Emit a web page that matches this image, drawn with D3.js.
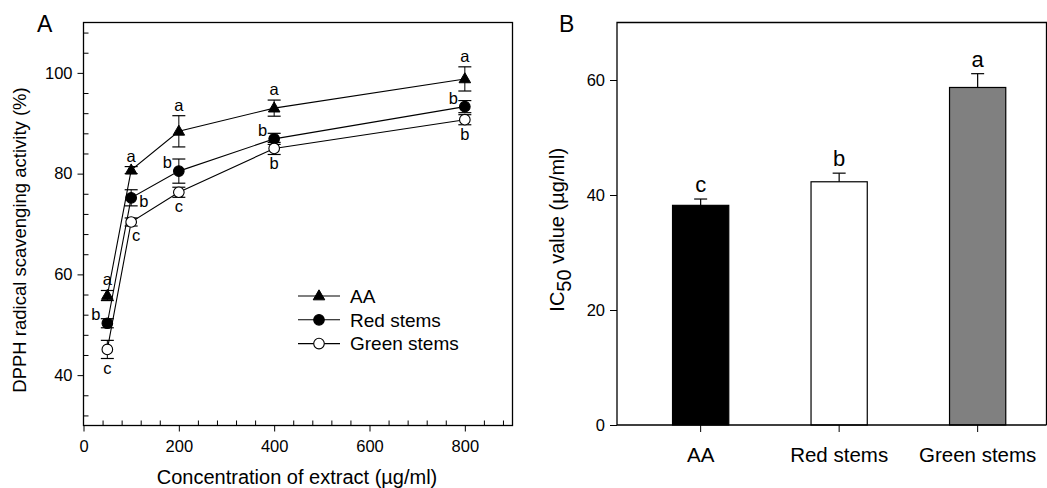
<!DOCTYPE html>
<html>
<head>
<meta charset="utf-8">
<script src="https://cdn.jsdelivr.net/npm/d3@7"></script>
<style>
	body { margin: 0; background: #fff; }
	text { font-family: Arial, "Liberation Sans", sans-serif; fill: #000; }
</style>
</head>
<body>
<svg id="chart" width="1047" height="488"></svg>
<script>
// ---- panel A data: DPPH scavenging (%) vs concentration
const conc = [50, 100, 200, 400, 800];
const aaMean = [55.8, 80.7, 88.4, 93.0, 98.8];
const aaErr = [1.0, 0.7, 3.1, 1.6, 2.4];
const redMean = [50.3, 75.2, 80.5, 86.9, 93.3];
const redErr = [0.9, 1.6, 2.4, 1.1, 1.2];
const greenMean = [45.1, 70.4, 76.3, 85.0, 90.7];
const greenErr = [1.8, 0.8, 1.0, 1.2, 1.0];
const aaLetters = ['a', 'a', 'a', 'a', 'a'];
const redLetters = ['b', 'b', 'b', 'b', 'b'];
const greenLetters = ['c', 'c', 'c', 'b', 'b'];
const seriesNames = ['AA', 'Red stems', 'Green stems'];
const xTicksA = [0, 200, 400, 600, 800];
const yTicksA = [40, 60, 80, 100];

// ---- panel B data: IC50
const ic50Cats = ['AA', 'Red stems', 'Green stems'];
const ic50Mean = [38.2, 42.3, 58.7];
const ic50Err = [1.1, 1.5, 2.4];
const ic50Letters = ['c', 'b', 'a'];
const yTicksB = [0, 20, 40, 60];

let svg = d3.select('#chart');

// ================= panel A =================
let A = {left: 83.5, right: 512.5, top: 22.5, bottom: 425.5};
let xA = d3.scaleLinear().domain([0, 900]).range([A.left, A.right]);
let yA = d3.scaleLinear().domain([30, 110]).range([A.bottom, A.top]);

let gA = svg.append('g').attr('id', 'panelA');

// minor ticks (inward)
gA.append('g')
	.attr('transform', `translate(0,${A.bottom})`)
	.call(d3.axisBottom(xA).tickValues(d3.range(40, 900, 40).filter(v => v % 200)).tickSize(-5).tickFormat('').tickSizeOuter(0));
gA.append('g')
	.attr('transform', `translate(${A.left},0)`)
	.call(d3.axisLeft(yA).tickValues(d3.range(32, 110, 4).filter(v => v % 20)).tickSize(-5).tickFormat('').tickSizeOuter(0));
// major ticks (outward)
gA.append('g')
	.attr('class', 'major')
	.attr('transform', `translate(0,${A.bottom})`)
	.call(d3.axisBottom(xA).tickValues(xTicksA).tickSize(6).tickPadding(9).tickSizeOuter(0));
gA.append('g')
	.attr('class', 'major')
	.attr('transform', `translate(${A.left},0)`)
	.call(d3.axisLeft(yA).tickValues(yTicksA).tickSize(6).tickPadding(5).tickSizeOuter(0));
gA.selectAll('.domain').remove();
gA.selectAll('.tick line').attr('stroke', '#000').attr('stroke-width', 1);
gA.selectAll('.major text').style('font-size', '16.5px').attr('fill', '#000');

gA.append('rect')
	.attr('x', A.left).attr('y', A.top)
	.attr('width', A.right - A.left).attr('height', A.bottom - A.top)
	.attr('fill', 'none').attr('stroke', '#000').attr('stroke-width', 1.3);

let line = d3.line().x(d => xA(d.x)).y(d => yA(d.y));

function seriesData(means, errs, letters) {
	return conc.map((c, i) => ({x: c, y: means[i], e: errs[i], l: letters[i]}));
}
let series = [
	{name: seriesNames[0], data: seriesData(aaMean, aaErr, aaLetters), marker: 'tri', fill: '#000'},
	{name: seriesNames[1], data: seriesData(redMean, redErr, redLetters), marker: 'circ', fill: '#000'},
	{name: seriesNames[2], data: seriesData(greenMean, greenErr, greenLetters), marker: 'circ', fill: '#fff'}
];

// lines first, then error bars, then markers
series.forEach(s => {
	gA.append('path')
		.attr('d', line(s.data))
		.attr('fill', 'none').attr('stroke', '#000').attr('stroke-width', 1.1);
});
series.forEach(s => {
	let eb = gA.append('g');
	s.data.forEach(d => {
		let x = xA(d.x), y1 = yA(d.y + d.e), y2 = yA(d.y - d.e);
		eb.append('line').attr('x1', x).attr('x2', x).attr('y1', y1).attr('y2', y2).attr('stroke', '#000');
		[y1, y2].forEach(yy => {
			eb.append('line').attr('x1', x - 6.5).attr('x2', x + 6.5).attr('y1', yy).attr('y2', yy).attr('stroke', '#000').attr('stroke-width', 1.2);
		});
	});
});
function drawMarker(g, type, fill, x, y) {
	if (type === 'tri') {
		g.append('path')
			.attr('d', d3.symbol(d3.symbolTriangle).size(58)())
			.attr('transform', `translate(${x},${y + 0.5})`)
			.attr('fill', fill).attr('stroke', '#000');
	} else {
		g.append('circle').attr('cx', x).attr('cy', y).attr('r', 5.3)
			.attr('fill', fill).attr('stroke', '#000').attr('stroke-width', 1.1);
	}
}
series.forEach(s => {
	s.data.forEach(d => drawMarker(gA, s.marker, s.fill, xA(d.x), yA(d.y)));
});

// significance letters, placed round each point
let letterSide = [
	['above', 'above', 'above', 'above', 'above'],
	['left', 'right', 'left', 'left', 'left'],
	['below', 'belowright', 'below', 'below', 'below']
];
series.forEach((s, si) => {
	s.data.forEach((d, i) => {
		let x = xA(d.x), side = letterSide[si][i];
		let t = gA.append('text').text(d.l).style('font-size', '16.5px');
		if (side === 'above') {
			t.attr('x', x).attr('y', yA(d.y + d.e) - 5).attr('text-anchor', 'middle');
		} else if (side === 'below' || side === 'belowright') {
			t.attr('x', side === 'below' ? x : x + 5).attr('y', yA(d.y - d.e) + 15).attr('text-anchor', 'middle');
		} else if (side === 'left') {
			t.attr('x', x - 7).attr('y', yA(d.y) - 3).attr('text-anchor', 'end');
		} else {
			t.attr('x', x + 8).attr('y', yA(d.y) + 9).attr('text-anchor', 'start');
		}
	});
});

// legend
let leg = gA.append('g').attr('transform', 'translate(298,296)');
series.forEach((s, i) => {
	let row = leg.append('g').attr('transform', `translate(0,${i * 23.8})`);
	row.append('line').attr('x1', 0).attr('x2', 42).attr('stroke', '#000').attr('stroke-width', 1.1);
	drawMarker(row, s.marker, s.fill, 21, 0);
	row.append('text').attr('x', 52).attr('y', 6.8).text(s.name).style('font-size', '19px');
});

// axis titles
gA.append('text')
	.attr('x', (A.left + A.right) / 2 - 1).attr('y', 484)
	.attr('text-anchor', 'middle').style('font-size', '20px')
	.text('Concentration of extract (\u00b5g/ml)');
gA.append('text')
	.attr('transform', `translate(26,${(A.top + A.bottom) / 2 + 16}) rotate(-90)`)
	.attr('text-anchor', 'middle').style('font-size', '18.5px')
	.text('DPPH radical scavenging activity (%)');
gA.append('text').attr('x', 37).attr('y', 32).style('font-size', '23px').text('A');

// ================= panel B =================
let B = {left: 617, right: 1046.5, top: 22.5, bottom: 425};
let xB = d3.scaleBand().domain(ic50Cats).range([631.4, 1046.9]).paddingInner(0.594).paddingOuter(0.297);
let yB = d3.scaleLinear().domain([0, 70]).range([B.bottom, B.top]);
let gB = svg.append('g').attr('id', 'panelB');

gB.append('g')
	.attr('class', 'major')
	.attr('transform', `translate(${B.left},0)`)
	.call(d3.axisLeft(yB).tickValues(yTicksB).tickSize(7).tickPadding(5).tickSizeOuter(0));
gB.append('g')
	.attr('class', 'major')
	.attr('transform', `translate(0,${B.bottom})`)
	.call(d3.axisBottom(xB).tickSize(7).tickPadding(15).tickSizeOuter(0));
gB.selectAll('.domain').remove();
gB.selectAll('.tick line').attr('stroke', '#000');
gB.selectAll('.major text').attr('fill', '#000').style('font-size', '16.5px');
gB.selectAll('.major').filter((d, i) => i === 1).selectAll('text').style('font-size', '20.5px');

let barFill = ['#000', '#fff', '#808080'];
gB.selectAll('rect.bar').data(ic50Cats).enter().append('rect')
	.attr('class', 'bar')
	.attr('x', d => xB(d)).attr('width', xB.bandwidth())
	.attr('y', (d, i) => yB(ic50Mean[i])).attr('height', (d, i) => B.bottom - yB(ic50Mean[i]))
	.attr('fill', (d, i) => barFill[i]).attr('stroke', '#000').attr('stroke-width', 1.2);
ic50Cats.forEach((c, i) => {
	let cx = xB(c) + xB.bandwidth() / 2;
	let top = yB(ic50Mean[i] + ic50Err[i]);
	gB.append('line').attr('x1', cx).attr('x2', cx).attr('y1', yB(ic50Mean[i])).attr('y2', top).attr('stroke', '#000').attr('stroke-width', 1.2);
	gB.append('line').attr('x1', cx - 6.5).attr('x2', cx + 6.5).attr('y1', top).attr('y2', top).attr('stroke', '#000').attr('stroke-width', 1.2);
	gB.append('text').attr('x', cx).attr('y', top - 7).attr('text-anchor', 'middle').style('font-size', '22px').text(ic50Letters[i]);
});

// frame: left, top, right + bottom axis line
gB.append('path')
	.attr('d', `M${B.left},${B.bottom}V${B.top}H${B.right}V${B.bottom}M${B.left},${B.bottom}H${B.right}`)
	.attr('fill', 'none').attr('stroke', '#000').attr('stroke-width', 1.3);

let yt = gB.append('text')
	.attr('transform', `translate(564,${(B.top + B.bottom) / 2 + 6}) rotate(-90)`)
	.attr('text-anchor', 'middle').style('font-size', '20px');
yt.append('tspan').text('IC');
yt.append('tspan').attr('dy', 7).text('50');
yt.append('tspan').attr('dy', -7).text(' value (\u00b5g/ml)');
gB.append('text').attr('x', 559).attr('y', 32).style('font-size', '23px').text('B');
</script>
</body>
</html>
